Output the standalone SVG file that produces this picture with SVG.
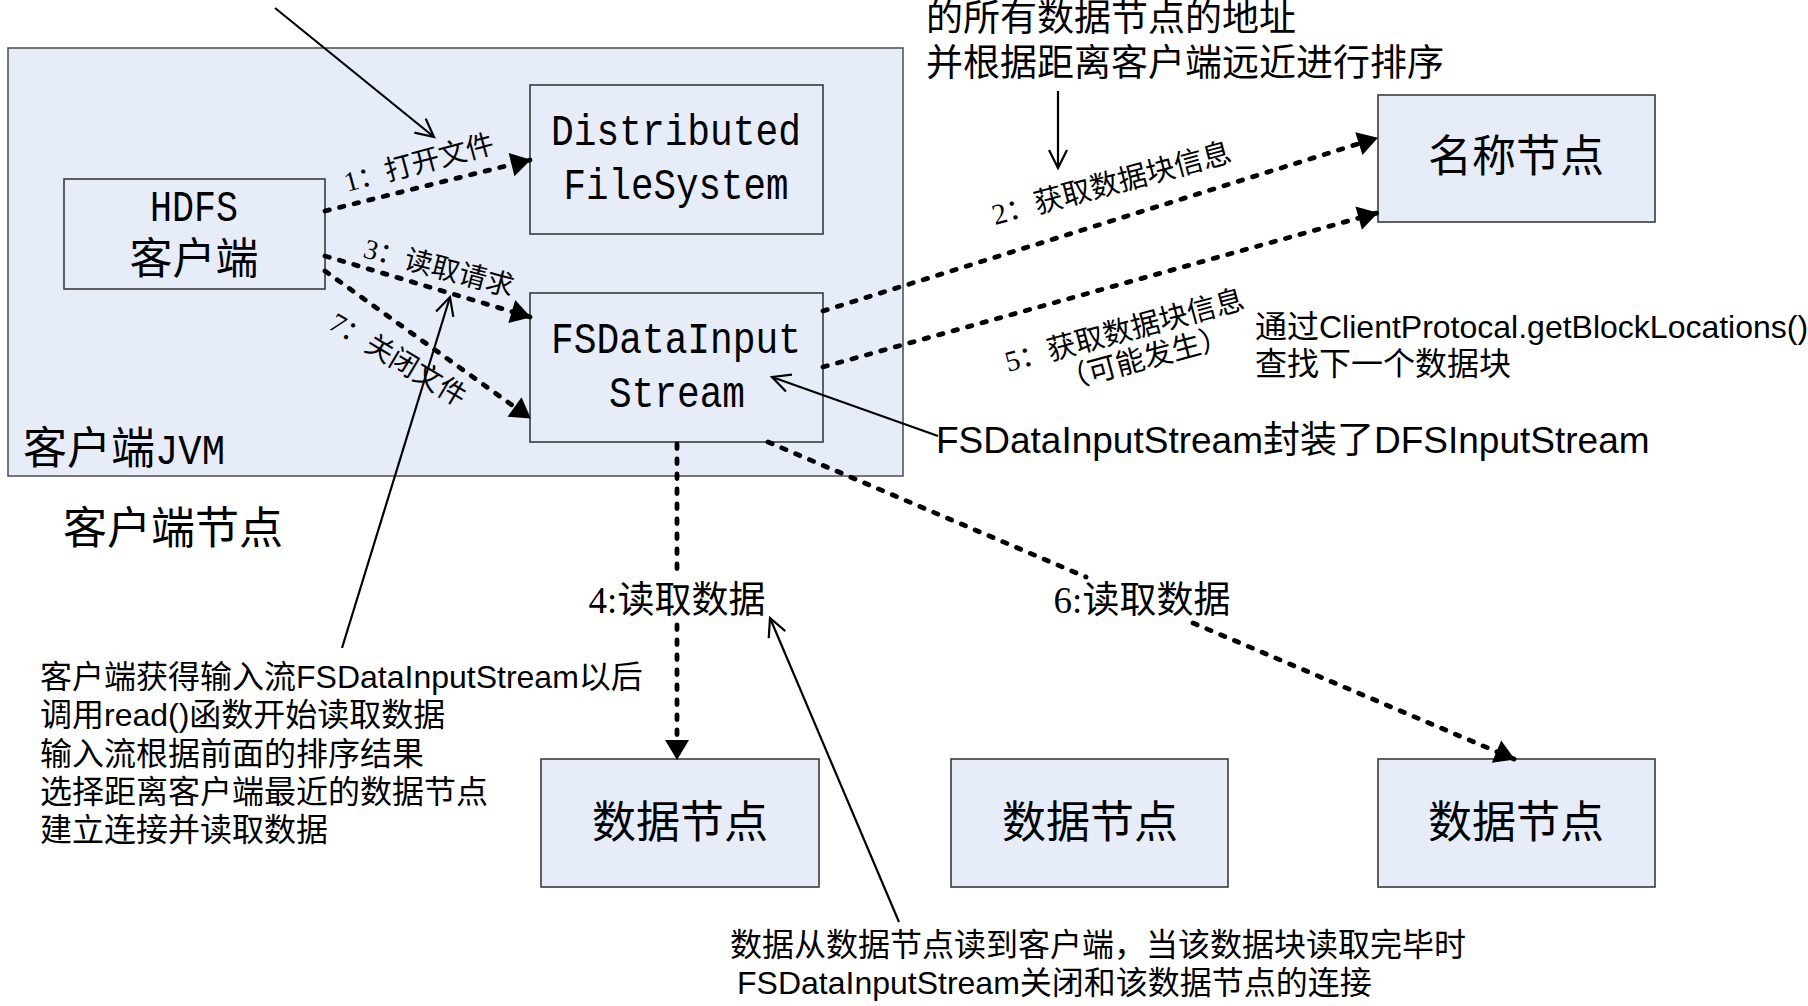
<svg xmlns="http://www.w3.org/2000/svg" width="1808" height="1006" viewBox="0 0 1808 1006">
<style>
.box{fill:#E7EDF8;stroke:#3a3a3a;stroke-width:1.6}
.outer{fill:#E7EDF8;stroke:#555;stroke-width:1.6}
.cjk{font-family:'Liberation Sans','Noto Sans CJK SC',sans-serif;fill:#000}
.ser{font-family:'Liberation Serif','Noto Sans CJK SC',serif;fill:#000}
.mono{font-family:'Liberation Mono','Noto Sans CJK SC',monospace;fill:#000}
.dot{fill:none;stroke:#000;stroke-width:4.8;stroke-linecap:round;stroke-dasharray:4.5 10.5}
.ann{fill:none;stroke:#000;stroke-width:2.2}
</style>
<defs>
<marker id="fa" markerUnits="userSpaceOnUse" markerWidth="20" markerHeight="24" refX="19" refY="12" orient="auto" overflow="visible">
<path d="M0,0 L20,12 L0,24 z" fill="#000"/>
</marker>
<marker id="oa" markerUnits="userSpaceOnUse" markerWidth="20" markerHeight="20" refX="18" refY="9" orient="auto" overflow="visible">
<path d="M0,0 L18,9 L0,18" fill="none" stroke="#000" stroke-width="2.2"/>
</marker>
</defs>
<rect width="1808" height="1006" fill="#fff"/>

<g id="jvm">
<rect class="outer" x="8" y="48" width="895" height="428"/>
<text class="cjk" x="23" y="464" font-size="44">客户端<tspan class="mono" font-size="42" textLength="70" lengthAdjust="spacingAndGlyphs">JVM</tspan></text>
</g>

<g id="client-node-label">
<text class="cjk" x="63" y="544" font-size="44">客户端节点</text>
</g>

<g id="hdfs-client">
<rect class="box" x="64" y="179" width="261" height="110"/>
<text class="mono" x="194" y="221" font-size="45" text-anchor="middle" textLength="88" lengthAdjust="spacingAndGlyphs">HDFS</text>
<text class="cjk" x="194" y="274" font-size="43" text-anchor="middle">客户端</text>
</g>

<g id="dfs">
<rect class="box" x="530" y="85" width="293" height="149"/>
<text class="mono" x="676" y="145" font-size="44" text-anchor="middle" textLength="250" lengthAdjust="spacingAndGlyphs">Distributed</text>
<text class="mono" x="676" y="199" font-size="44" text-anchor="middle" textLength="225" lengthAdjust="spacingAndGlyphs">FileSystem</text>
</g>

<g id="fsdis">
<rect class="box" x="530" y="293" width="293" height="149"/>
<text class="mono" x="676" y="353" font-size="44" text-anchor="middle" textLength="250" lengthAdjust="spacingAndGlyphs">FSDataInput</text>
<text class="mono" x="677" y="407" font-size="44" text-anchor="middle" textLength="136" lengthAdjust="spacingAndGlyphs">Stream</text>
</g>

<g id="namenode">
<rect class="box" x="1378" y="95" width="277" height="127"/>
<text class="cjk" x="1516" y="172" font-size="44" text-anchor="middle">名称节点</text>
</g>

<g id="datanode1">
<rect class="box" x="541" y="759" width="278" height="128"/>
<text class="cjk" x="680" y="838" font-size="44" text-anchor="middle">数据节点</text>
</g>
<g id="datanode2">
<rect class="box" x="951" y="759" width="277" height="128"/>
<text class="cjk" x="1090" y="838" font-size="44" text-anchor="middle">数据节点</text>
</g>
<g id="datanode3">
<rect class="box" x="1378" y="759" width="277" height="128"/>
<text class="cjk" x="1516" y="838" font-size="44" text-anchor="middle">数据节点</text>
</g>

<g id="connectors">
<path class="dot" d="M325,211 L530,160" marker-end="url(#fa)"/>
<path class="dot" d="M325,256 L530,317" marker-end="url(#fa)"/>
<path class="dot" d="M325,271 L530,418" marker-end="url(#fa)"/>
<path class="dot" d="M823,311 L1377,138" marker-end="url(#fa)"/>
<path class="dot" d="M823,367 L1377,213" marker-end="url(#fa)"/>
<path class="dot" d="M677,444 V577 M677,625 V759" marker-end="url(#fa)"/>
<path class="dot" d="M768,442 L1086,577 M1193,623 L1514,759" marker-end="url(#fa)"/>

<text class="ser" font-size="28" transform="translate(347,192) rotate(-15)">1：打开文件</text>
<text class="ser" font-size="28" transform="translate(362,257) rotate(15)">3：读取请求</text>
<text class="ser" font-size="28" transform="translate(327,328) rotate(31)">7：关闭文件</text>
<text class="ser" font-size="29" transform="translate(995,225) rotate(-15)">2：获取数据块信息</text>
<text class="ser" font-size="29" transform="translate(1008,372) rotate(-15)">5：获取数据块信息<tspan x="48" y="32">（可能发生）</tspan></text>
<text class="ser" x="677" y="613" font-size="37" text-anchor="middle">4:读取数据</text>
<text class="ser" x="1142" y="613" font-size="37" text-anchor="middle">6:读取数据</text>
</g>

<g id="annotations">
<path class="ann" d="M275,8 L434,137" marker-end="url(#oa)"/>
<path class="ann" d="M1058,91 L1058,168" marker-end="url(#oa)"/>
<path class="ann" d="M342,648 L450,297" marker-end="url(#oa)"/>
<path class="ann" d="M938,436 L772,377" marker-end="url(#oa)"/>
<path class="ann" d="M899,922 L770,618" marker-end="url(#oa)"/>

<text class="cjk" x="926" y="31" font-size="37">的所有数据节点的地址</text>
<text class="cjk" x="926" y="76" font-size="37">并根据距离客户端远近进行排序</text>
<text class="cjk" x="1255" y="338" font-size="32">通过ClientProtocal.getBlockLocations()</text>
<text class="cjk" x="1255" y="375" font-size="32">查找下一个数据块</text>
<text class="cjk" x="936" y="453" font-size="37">FSDataInputStream封装了DFSInputStream</text>
<text class="cjk" x="40" y="688" font-size="32">客户端获得输入流FSDataInputStream以后</text>
<text class="cjk" x="40" y="726" font-size="32">调用read()函数开始读取数据</text>
<text class="cjk" x="40" y="765" font-size="32">输入流根据前面的排序结果</text>
<text class="cjk" x="40" y="803" font-size="32">选择距离客户端最近的数据节点</text>
<text class="cjk" x="40" y="841" font-size="32">建立连接并读取数据</text>
<text class="cjk" x="730" y="956" font-size="32">数据从数据节点读到客户端，当该数据块读取完毕时</text>
<text class="cjk" x="737" y="994" font-size="32">FSDataInputStream关闭和该数据节点的连接</text>
</g>
</svg>
